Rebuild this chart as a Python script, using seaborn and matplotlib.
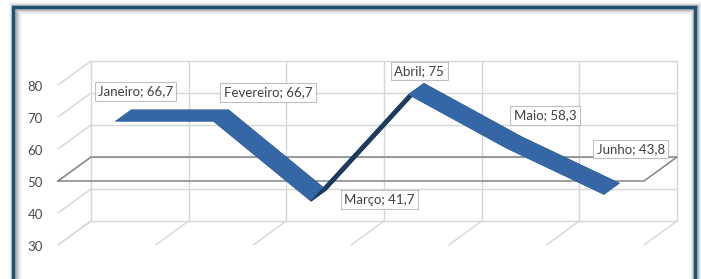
import numpy as np
import pandas as pd
import matplotlib
matplotlib.use("Agg")
import matplotlib.pyplot as plt
import matplotlib.patches as mpatches
import seaborn as sns

# data
months = ["Janeiro", "Fevereiro", "Março", "Abril", "Maio", "Junho"]
values = [66.7, 66.7, 41.7, 75, 58.3, 43.8]
y_ticks = [30, 40, 50, 60, 70, 80]

# pseudo-3D geometry (depth offset per unit depth, in data units)
DX = 0.338
DY = 7.5
FLOOR = 50
RIB_FRONT, RIB_BACK = 0.27, 0.73
label_offsets = [(12, 24), (47, 23), (61, -4), (3, 18), (31, 27), (19, 40)]

TOP = "#3566a6"
UNDER = "#1d3a5f"
GRID = "#d6d6d6"
PLANE = "#8c8c8c"

sns.set_theme(style="white")
plt.rcParams["font.family"] = ["Lato", "DejaVu Sans"]


def proj(x, v, d):
    return x + DX * d, v + DY * d


fig = plt.figure(figsize=(7.01, 2.79), dpi=100)
ax = fig.add_axes([58 / 701, 1 - 245 / 279, 619 / 701, 184 / 279])

n = len(months)
bounds = np.arange(-0.5, n, 1.0)
lo, hi = y_ticks[0], y_ticks[-1]

# back wall
for v in y_ticks:
    x0, y0 = proj(bounds[0], v, 1)
    x1, y1 = proj(bounds[-1], v, 1)
    ax.plot([x0, x1], [y0, y1], color=GRID, lw=1, clip_on=False, zorder=1)
for b in bounds:
    x0, y0 = proj(b, lo, 1)
    x1, y1 = proj(b, hi, 1)
    ax.plot([x0, x1], [y0, y1], color=GRID, lw=1, clip_on=False, zorder=1)
    # floor depth lines
    ax.plot([b, b + DX], [lo, lo + DY], color=GRID, lw=1, clip_on=False, zorder=1)
# left side wall
for v in y_ticks:
    ax.plot([bounds[0], bounds[0] + DX], [v, v + DY], color=GRID, lw=1,
            clip_on=False, zorder=1)

# plane at 50
px = [bounds[0], bounds[-1], bounds[-1] + DX, bounds[0] + DX, bounds[0]]
py = [FLOOR, FLOOR, FLOOR + DY, FLOOR + DY, FLOOR]
ax.plot(px, py, color=PLANE, lw=1.2, clip_on=False, zorder=2)

# ribbon edges (under the faces)
xs = np.arange(n)
edges = []
for name, d in [("front", RIB_FRONT), ("back", RIB_BACK)]:
    ex, ey = proj(xs, np.array(values), d)
    edges.append(pd.DataFrame({"x": ex, "y": ey, "edge": name}))
edges = pd.concat(edges)
sns.lineplot(data=edges, x="x", y="y", hue="edge", palette=[TOP, UNDER],
             estimator=None, sort=False, lw=0.6, legend=False, ax=ax, zorder=3)

# ribbon faces
for i in range(n - 1):
    a0 = proj(xs[i], values[i], RIB_FRONT)
    b0 = proj(xs[i + 1], values[i + 1], RIB_FRONT)
    b1 = proj(xs[i + 1], values[i + 1], RIB_BACK)
    a1 = proj(xs[i], values[i], RIB_BACK)
    seg = np.subtract(b0, a0)
    dep = np.subtract(a1, a0)
    cross = seg[0] * dep[1] / DY - seg[1] * dep[0] / DX
    color = TOP if cross > 0 else UNDER
    poly = [a0, b0, b1, a1]
    ax.fill([p[0] for p in poly], [p[1] for p in poly], color=color,
            lw=0.6, ec=color, clip_on=False, zorder=4)

ax.set_xlim(-0.5, 5.5 + DX)
ax.set_ylim(30, 80 + DY)
ax.axis("off")

# tick labels on the front left edge
for v in y_ticks:
    ax.annotate(str(v), (bounds[0], v), xytext=(-15, -2), textcoords="offset pixels",
                ha="right", va="center", fontsize=9.5, color="#4d4d4d")

# data labels
for i, (m, v) in enumerate(zip(months, values)):
    cx, cy = proj(xs[i], v, 0.5)
    txt = f"{m}; " + f"{v:g}".replace(".", ",")
    ax.annotate(txt, (cx, cy), xytext=label_offsets[i], textcoords="offset pixels",
                ha="center", va="center", fontsize=9.5, color="#404040", zorder=6,
                bbox=dict(boxstyle="square,pad=0.25", fc="white", ec="#bfbfbf", lw=0.8))

# chart frame with soft shadow
l, t, r, b = 13.5 / 701, 1 - 7.5 / 279, 694.5 / 701, -0.05
for lw, alpha in [(9, 0.06), (6, 0.1), (4, 0.15)]:
    fig.patches.append(mpatches.Rectangle((l + 1.5 / 701, b), r - l, t - b - 1 / 279,
                                          transform=fig.transFigure, fill=False,
                                          ec="black", lw=lw, alpha=alpha))
fig.patches.append(mpatches.Rectangle((l, b), r - l, t - b, transform=fig.transFigure,
                                      fill=False, ec="#1f5373", lw=2.5))

fig.savefig("out.png", dpi=100, facecolor="white")
